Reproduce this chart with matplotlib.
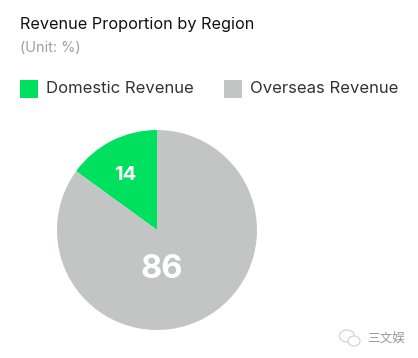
"""Revenue proportion pie chart."""
import matplotlib
matplotlib.use("Agg")
import matplotlib.pyplot as plt
from matplotlib.patches import Ellipse, Rectangle

plt.rcParams["font.family"] = ["Inter", "Noto Sans CJK SC", "DejaVu Sans"]

categories = ["Domestic Revenue", "Overseas Revenue"]
values = [14, 86]
# the slice in the picture is drawn a bit wider than its label says
slice_sizes = [15, 85]
colors = ["#00E05F", "#C3C5C4"]

W, H = 418, 358
fig = plt.figure(figsize=(W / 100, H / 100), dpi=100, facecolor="white")

# Pie area, about 200px wide centred at (157, 230)
ax = fig.add_axes([57 / W, 1 - 330 / H, 200 / W, 200 / H])
ax.pie(slice_sizes, colors=colors, startangle=90, counterclock=True, radius=1.0)
ax.set_xlim(-1, 1)
ax.set_ylim(-1, 1)
ax.text(-0.32, 0.55, str(values[0]), color="white", fontsize=14.5, fontweight="bold", ha="center", va="center")
ax.text(0.05, -0.40, str(values[1]), color="white", fontsize=23.5, fontweight="bold", ha="center", va="center")

fig.text(20 / W, 1 - 24.5 / H, "Revenue Proportion by Region", fontsize=11.7, color="#111111", va="center")
fig.text(20 / W, 1 - 48.5 / H, "(Unit: %)", fontsize=10.5, color="#a0a0a0", va="center")

# Legend
for x, colour in zip([20, 224], colors):
    fig.add_artist(Rectangle((x / W, 1 - 98 / H), 17.5 / W, 18 / H, transform=fig.transFigure,
                             facecolor=colour, edgecolor="none"))
for x, label in zip([46, 250], categories):
    fig.text(x / W, 1 - 88.5 / H, label, fontsize=12, color="#333333", va="center")

# Watermark, with the chat-bubble icon
fig.text(367 / W, 1 - 338 / H, "三文娱", fontsize=9.1, color="#9a9a9a", va="center")
for cx, cy, w, h in [(347, 336, 15, 12), (354, 341, 12, 10)]:
    fig.add_artist(Ellipse((cx / W, 1 - cy / H), w / W, h / H, transform=fig.transFigure,
                           facecolor="white", edgecolor="#d0d0d0", linewidth=0.8))

fig.savefig("out.png", dpi=100, facecolor="white")
plt.close(fig)
